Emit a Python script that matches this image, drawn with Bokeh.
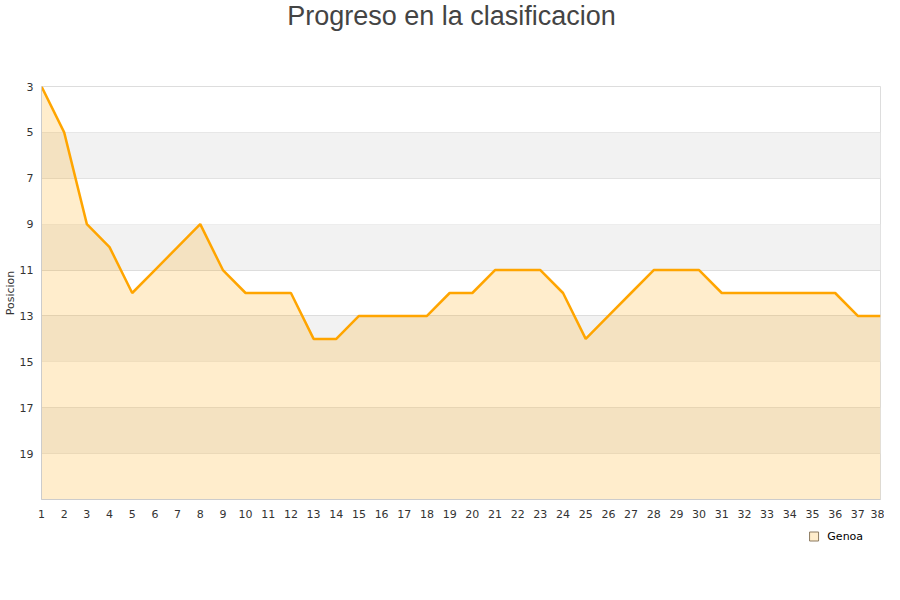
from bokeh.plotting import figure
from bokeh.layouts import column
from bokeh.models import Range1d, BoxAnnotation, FixedTicker, ColumnDataSource
from bokeh.core.properties import value
from bokeh.embed import file_html
from bokeh.resources import INLINE

jornadas = list(range(1, 39))
posiciones = [3, 5, 9, 10, 12, 11, 10, 9, 11, 12, 12, 12, 14, 14, 13, 13, 13, 13, 12, 12,
              11, 11, 11, 12, 14, 13, 12, 11, 11, 11, 12, 12, 12, 12, 12, 12, 13, 13]
equipo = "Genoa"
titulo = "Progreso en la clasificacion"
y_ticks = [3, 5, 7, 9, 11, 13, 15, 17, 19]
y_max = 21
bands = [(5, 7), (9, 11), (13, 15), (17, 19)]

W = 884
TOP_H, MAIN_H = 40, 488
LEG_H = 584 - TOP_H - MAIN_H


def strip(h):
    f = figure(width=W, height=h, output_backend="svg", toolbar_location=None,
               x_range=Range1d(0, W), y_range=Range1d(0, h), min_border=0)
    f.axis.visible = False
    f.grid.visible = False
    f.outline_line_color = None
    return f


# title strip
top = strip(TOP_H)
top.text(x=[W / 2 - 10], y=[TOP_H - 15], text=[titulo], text_align="center", text_baseline="middle",
         text_font=value("Liberation Sans"), text_font_size="27px", text_color="#444444")

# main chart
src = ColumnDataSource(dict(x=jornadas, y=posiciones, base=[y_max] * len(jornadas)))
p = figure(width=W, height=MAIN_H, output_backend="svg", toolbar_location=None,
           x_range=Range1d(1, 38), y_range=Range1d(y_max, 3),
           min_border_left=32, min_border_right=4, min_border_bottom=29, min_border_top=46)

for b0, b1 in bands:
    p.add_layout(BoxAnnotation(bottom=b0, top=b1, fill_color="#f2f2f2", fill_alpha=1.0,
                               line_alpha=0, level="underlay"))

p.varea(x="x", y1="y", y2="base", source=src, fill_color="#ffa500", fill_alpha=0.2)
p.line(x="x", y="y", source=src, line_color="#ffa500", line_width=2.5)

p.xaxis.ticker = FixedTicker(ticks=jornadas)
p.yaxis.ticker = FixedTicker(ticks=y_ticks)
for ax in (p.xaxis[0], p.yaxis[0]):
    ax.major_tick_line_color = None
    ax.minor_tick_line_color = None
    ax.axis_line_color = "#cccccc"
    ax.major_label_text_font = "DejaVu Sans"
    ax.major_label_text_font_size = "11px"
    ax.major_label_text_color = "#333333"
p.xaxis.major_label_standoff = 4
p.xaxis.axis_label = None
p.yaxis.major_label_standoff = 2
p.yaxis.axis_label = "Posicion"
p.yaxis.axis_label_text_font = "DejaVu Sans"
p.yaxis.axis_label_text_font_size = "11px"
p.yaxis.axis_label_text_font_style = "normal"
p.yaxis.axis_label_text_color = "#333333"
p.yaxis.axis_label_standoff = 0

p.xgrid.grid_line_color = None
p.ygrid.grid_line_color = "#dddddd"
p.ygrid.ticker = FixedTicker(ticks=y_ticks)
p.outline_line_color = "#dddddd"
p.background_fill_color = "white"
p.border_fill_color = "white"

# legend strip
leg = strip(LEG_H)
leg.scatter(x=[814], y=[LEG_H - 8], marker="square", size=9,
            fill_color="#ffedcc", line_color="#8c7a60", line_width=1)
leg.text(x=[828], y=[LEG_H - 8], text=[equipo], text_align="left", text_baseline="middle",
         text_font=value("DejaVu Sans"), text_font_size="11px", text_color="#000000")

layout = column(top, p, leg, spacing=0)
open("out.html", "w").write(file_html(layout, INLINE))
